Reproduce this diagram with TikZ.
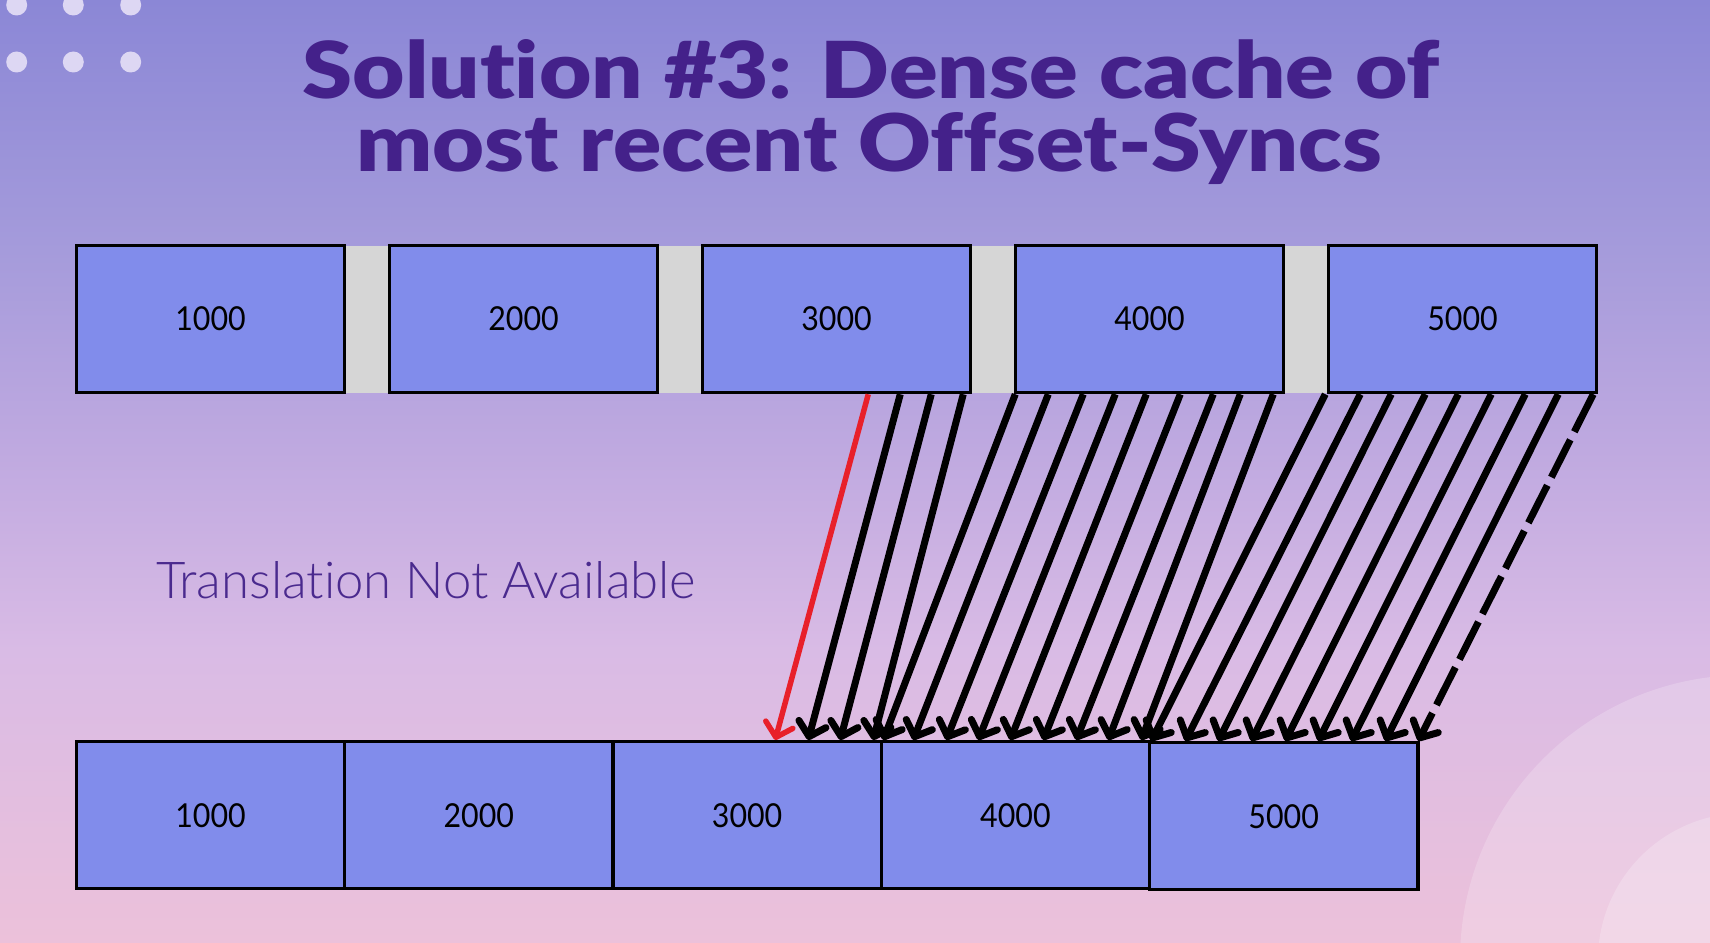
\documentclass[tikz,border=0pt]{standalone}
\usepackage{fontspec}
\usetikzlibrary{arrows.meta}

\newfontfamily\titlefont{Lato Black}[Ligatures=NoCommon]
\newfontfamily\lightfont{Lato Light}[Ligatures=NoCommon]
\newfontfamily\numfont{Lato}[FakeStretch=0.92]

\definecolor{bgA}{HTML}{8B87D6}
\definecolor{bgB}{HTML}{A59BDB}
\definecolor{bgC}{HTML}{BFA9E0}
\definecolor{bgD}{HTML}{D9BBE5}
\definecolor{bgE}{HTML}{ECC1DA}
\definecolor{titlecol}{HTML}{44218A}
\definecolor{textcol}{HTML}{4A2A8E}
\definecolor{boxfill}{HTML}{818CEB}
\definecolor{gapfill}{HTML}{D6D6D6}
\definecolor{dotcol}{HTML}{DDD7F3}
\definecolor{syncred}{HTML}{E8202A}

% page background, light at the bottom, blue-violet at the top
\pgfdeclareverticalshading{pagebg}{100bp}{%
  color(0bp)=(bgE); color(25bp)=(bgE); color(40.5bp)=(bgD);
  color(51.1bp)=(bgC); color(61.7bp)=(bgB); color(75bp)=(bgA);
  color(100bp)=(bgA)}

\begin{document}
\begin{tikzpicture}[x=1pt,y=-1pt,
  cell/.style={draw=black, line width=3.5pt, fill=boxfill,
    minimum width=268pt, minimum height=147pt, inner sep=0pt,
    font=\numfont\fontsize{33}{33}\selectfont},
  lowcell/.style={cell, minimum width=268.3pt},
  gapcell/.style={fill=gapfill, minimum width=45pt, minimum height=147pt,
    inner sep=0pt},
  syncarrow/.style={line width=7pt, black,
    -{Straight Barb[length=13pt,width=28pt,round]}},
  missarrow/.style={syncarrow, line width=5.5pt, syncred},
  lastarrow/.style={syncarrow, dash pattern=on 42pt off 9pt},
  titleline/.style={anchor=base, inner sep=0pt, text=titlecol},
]
\useasboundingbox (0,0) rectangle (1710,942);
\shade[shading=pagebg] (0,0) rectangle (1710,942);

% soft rings in the lower right corner
\begin{scope}
  \clip (0,0) rectangle (1710,942);
  \fill[white, opacity=0.2] (1745,960) circle (285);
  \fill[white, opacity=0.22] (1745,960) circle (147);
\end{scope}

% dot grid in the upper left corner
\foreach \px in {16.7,73.3,130.7}
  \foreach \py in {5,62}
    \fill[dotcol] (\px,\py) circle (10.5);

% title
\node[titleline] (title1) at (871,98.5)
  {\resizebox{1136pt}{59pt}{\titlefont Solution \#3: Dense cache of}};
\node[titleline] (title2) at (869,171.7)
  {\resizebox{1025pt}{59pt}{\titlefont most recent Offset-Syncs}};

% upstream offsets, with gaps between the synced ranges
\foreach \k in {1,...,4}
  \node[gapcell] (g\k) at ({210.5+313*(\k-1)+156.5},319) {};
\node[cell] (t1) at (210.5,319) {1000};
\node[cell] (t2) at (523.5,319) {2000};
\node[cell] (t3) at (836.5,319) {3000};
\node[cell] (t4) at (1149.5,319) {4000};
\node[cell] (t5) at (1462.5,319) {5000};

% downstream offsets, contiguous
\node[lowcell] (b1) at (210.5,815.2) {1000};
\node[lowcell] (b2) at (478.8,815.2) {2000};
\node[lowcell] (b3) at (747.1,815.2) {3000};
\node[lowcell] (b4) at (1015.4,815.2) {4000};
\node[lowcell] (b5) at (1283.7,816.2) {5000};

\node[anchor=base west, inner sep=0pt, text=textcol] (na) at (156,598)
  {\resizebox{540pt}{!}{\lightfont\fontsize{50}{50}\selectfont Translation Not Available}};

% offset syncs from upstream to downstream
\draw[missarrow] ([xshift=167.5pt]t3.south west) -- ([xshift=164pt]b3.north west);
\foreach \s/\e in {199.5/197, 230.5/229, 262.5/262}
  \draw[syncarrow] ([xshift=\s pt]t3.south west) -- ([xshift=\e pt]b3.north west);
\foreach \s/\e in {1.5/3.75, 34.5/33.75, 69.5/66.75, 101.5/98.75, 132.5/130.75,
                   166.5/163.75, 199.5/196.75, 226.5/228.75, 259.5/261.75}
  \draw[syncarrow] ([xshift=\s pt]t4.south west) -- ([xshift=\e pt]b4.north west);
\foreach \s/\e in {-1.5/3.5, 33.5/37.5, 64.5/70.5, 98.5/103.5, 131.5/137.5,
                   164.5/170.5, 198.5/203.5, 231.5/237.5}
  \draw[syncarrow] ([xshift=\s pt]t5.south west) -- ([xshift=\e pt]b5.north west);
\draw[lastarrow] ([xshift=266.5pt]t5.south west) -- ([xshift=270.5pt]b5.north west);
\end{tikzpicture}
\end{document}
